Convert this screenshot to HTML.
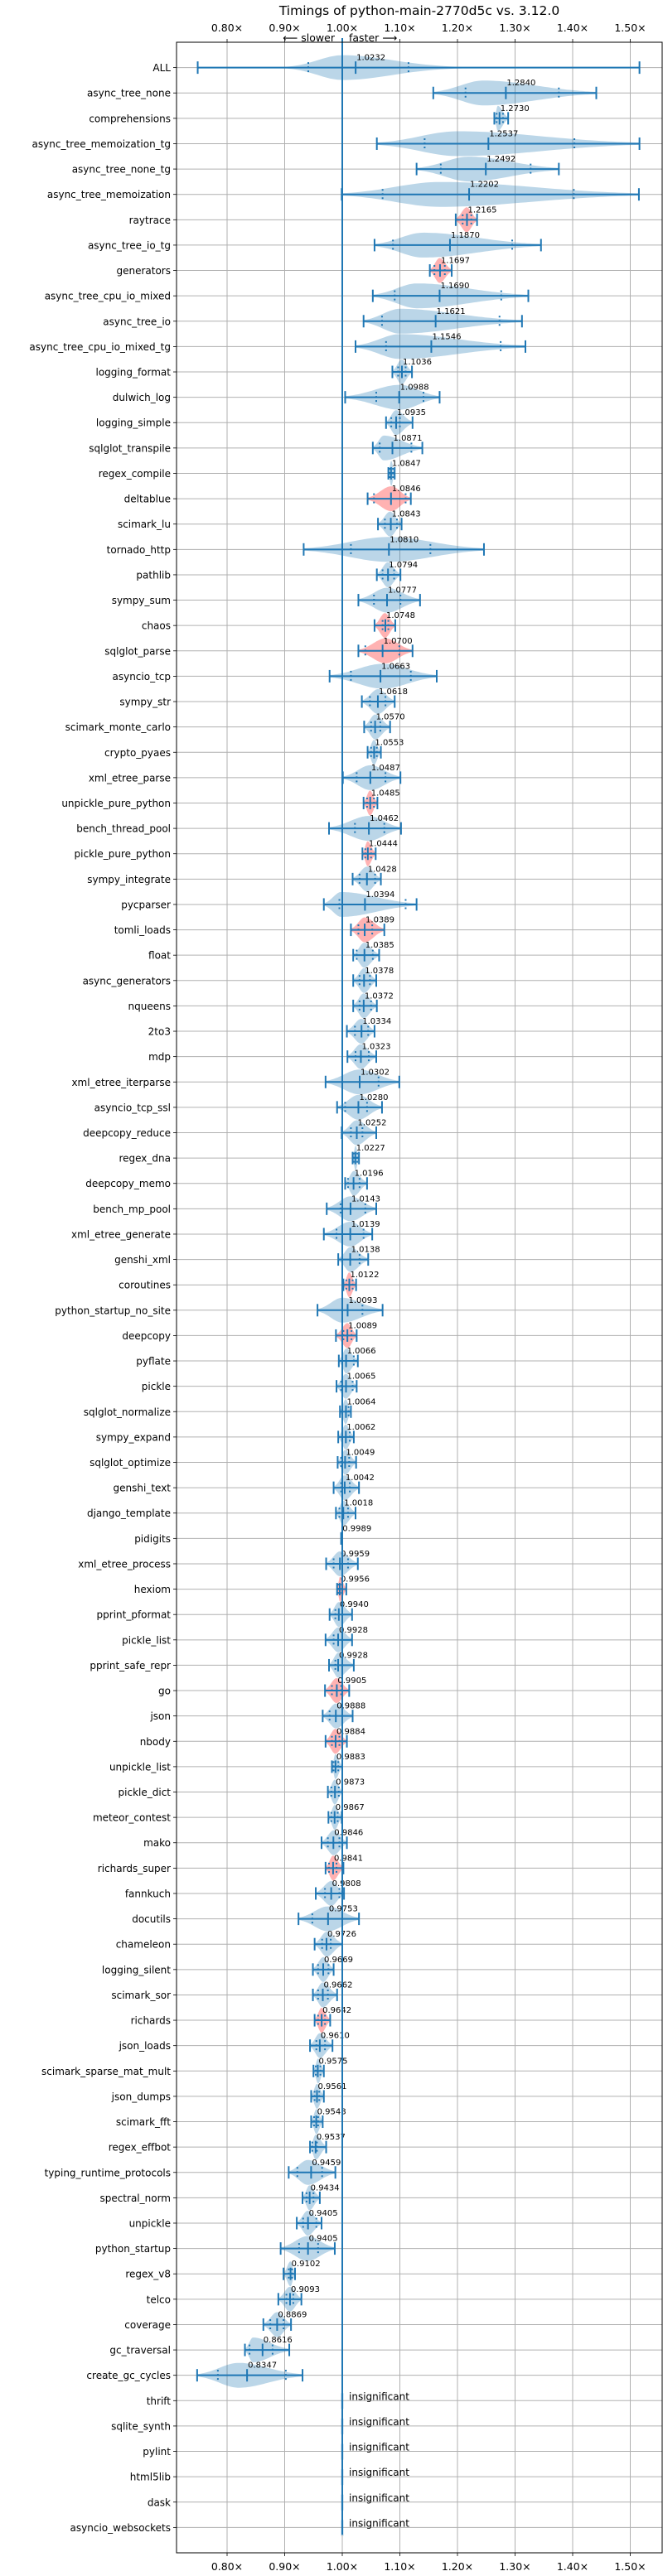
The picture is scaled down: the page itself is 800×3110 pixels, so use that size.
<!DOCTYPE html>
<html><head><meta charset="utf-8"><style>
html,body{margin:0;padding:0;background:#fff;}
svg{display:block;font-family:"DejaVu Sans","Liberation Sans",sans-serif;}
</style></head><body>
<svg id="chart" width="800" height="3110" viewBox="0 0 800 3110" xmlns="http://www.w3.org/2000/svg"></svg>
<script>
const names = ["ALL","async_tree_none","comprehensions","async_tree_memoization_tg","async_tree_none_tg","async_tree_memoization","raytrace","async_tree_io_tg","generators","async_tree_cpu_io_mixed","async_tree_io","async_tree_cpu_io_mixed_tg","logging_format","dulwich_log","logging_simple","sqlglot_transpile","regex_compile","deltablue","scimark_lu","tornado_http","pathlib","sympy_sum","chaos","sqlglot_parse","asyncio_tcp","sympy_str","scimark_monte_carlo","crypto_pyaes","xml_etree_parse","unpickle_pure_python","bench_thread_pool","pickle_pure_python","sympy_integrate","pycparser","tomli_loads","float","async_generators","nqueens","2to3","mdp","xml_etree_iterparse","asyncio_tcp_ssl","deepcopy_reduce","regex_dna","deepcopy_memo","bench_mp_pool","xml_etree_generate","genshi_xml","coroutines","python_startup_no_site","deepcopy","pyflate","pickle","sqlglot_normalize","sympy_expand","sqlglot_optimize","genshi_text","django_template","pidigits","xml_etree_process","hexiom","pprint_pformat","pickle_list","pprint_safe_repr","go","json","nbody","unpickle_list","pickle_dict","meteor_contest","mako","richards_super","fannkuch","docutils","chameleon","logging_silent","scimark_sor","richards","json_loads","scimark_sparse_mat_mult","json_dumps","scimark_fft","regex_effbot","typing_runtime_protocols","spectral_norm","unpickle","python_startup","regex_v8","telco","coverage","gc_traversal","create_gc_cycles","thrift","sqlite_synth","pylint","html5lib","dask","asyncio_websockets"];
const means = [1.0232,1.2840,1.2730,1.2537,1.2492,1.2202,1.2165,1.1870,1.1697,1.1690,1.1621,1.1546,1.1036,1.0988,1.0935,1.0871,1.0847,1.0846,1.0843,1.0810,1.0794,1.0777,1.0748,1.0700,1.0663,1.0618,1.0570,1.0553,1.0487,1.0485,1.0462,1.0444,1.0428,1.0394,1.0389,1.0385,1.0378,1.0372,1.0334,1.0323,1.0302,1.0280,1.0252,1.0227,1.0196,1.0143,1.0139,1.0138,1.0122,1.0093,1.0089,1.0066,1.0065,1.0064,1.0062,1.0049,1.0042,1.0018,0.9989,0.9959,0.9956,0.9940,0.9928,0.9928,0.9905,0.9888,0.9884,0.9883,0.9873,0.9867,0.9846,0.9841,0.9808,0.9753,0.9726,0.9669,0.9662,0.9642,0.9610,0.9575,0.9561,0.9548,0.9537,0.9459,0.9434,0.9405,0.9405,0.9102,0.9093,0.8869,0.8616,0.8347,null,null,null,null,null,null];
const mins = [0.749,1.158,1.264,1.060,1.129,0.999,1.197,1.056,1.152,1.053,1.037,1.023,1.087,1.005,1.076,1.053,1.080,1.044,1.062,0.933,1.060,1.028,1.056,1.028,0.978,1.034,1.038,1.044,1.001,1.037,0.977,1.035,1.018,0.968,1.015,1.019,1.019,1.019,1.008,1.009,0.971,0.991,0.999,1.018,1.005,0.973,0.968,0.993,1.002,0.957,0.989,0.994,0.990,0.996,0.993,0.992,0.985,0.989,0.998,0.972,0.991,0.978,0.971,0.977,0.970,0.966,0.971,0.982,0.975,0.976,0.964,0.971,0.954,0.924,0.952,0.949,0.949,0.952,0.944,0.950,0.946,0.946,0.944,0.907,0.931,0.921,0.893,0.898,0.889,0.863,0.831,0.748];
const maxs = [1.516,1.441,1.288,1.516,1.376,1.515,1.234,1.345,1.190,1.323,1.312,1.318,1.121,1.169,1.122,1.139,1.091,1.119,1.103,1.246,1.101,1.135,1.092,1.122,1.164,1.091,1.083,1.067,1.101,1.061,1.102,1.058,1.067,1.129,1.073,1.064,1.059,1.060,1.056,1.059,1.099,1.069,1.059,1.029,1.043,1.059,1.052,1.045,1.024,1.070,1.025,1.027,1.025,1.015,1.020,1.024,1.029,1.023,1.000,1.027,1.007,1.017,1.017,1.020,1.012,1.018,1.008,1.000,1.000,0.999,1.008,1.002,1.003,1.029,1.000,0.985,0.991,0.979,0.983,0.968,0.968,0.966,0.972,0.988,0.961,0.964,0.987,0.918,0.929,0.911,0.908,0.931];
const q1s = [0.941,1.214,1.268,1.143,1.171,1.070,1.209,1.088,1.160,1.091,1.069,1.076,1.097,1.059,1.085,1.065,1.082,1.055,1.074,1.015,1.070,1.055,1.070,1.040,1.015,1.048,1.050,1.050,1.025,1.043,1.022,1.040,1.030,0.995,1.028,1.025,1.030,1.030,1.022,1.023,1.000,1.005,1.015,1.020,1.010,0.997,0.990,1.000,1.007,1.000,1.002,1.000,0.998,1.000,1.000,0.998,0.998,0.995,0.9985,0.985,0.993,0.988,0.985,0.988,0.982,0.978,0.982,0.985,0.981,0.981,0.975,0.977,0.970,0.948,0.965,0.958,0.958,0.958,0.955,0.954,0.952,0.951,0.948,0.922,0.938,0.932,0.925,0.907,0.903,0.875,0.839,0.784];
const q3s = [1.115,1.376,1.279,1.403,1.327,1.402,1.224,1.295,1.178,1.276,1.273,1.275,1.110,1.141,1.100,1.120,1.088,1.110,1.095,1.153,1.090,1.101,1.080,1.099,1.119,1.075,1.066,1.060,1.075,1.055,1.073,1.050,1.057,1.110,1.052,1.053,1.048,1.050,1.045,1.046,1.063,1.043,1.035,1.026,1.030,1.040,1.037,1.030,1.018,1.035,1.016,1.020,1.018,1.011,1.013,1.012,1.013,1.010,0.9995,1.010,0.999,1.000,1.000,1.000,0.998,1.000,0.995,0.993,0.994,0.992,0.995,0.990,0.995,1.000,0.980,0.976,0.975,0.970,0.970,0.962,0.960,0.958,0.956,0.965,0.950,0.955,0.958,0.913,0.915,0.898,0.879,0.902];
const modes = [1.0,1.245,1.270,1.20,1.22,1.17,1.216,1.14,1.169,1.13,1.10,1.10,1.103,1.10,1.093,1.072,1.085,1.085,1.083,1.08,1.079,1.078,1.074,1.075,1.07,1.062,1.057,1.055,1.049,1.048,1.046,1.044,1.043,0.998,1.039,1.038,1.038,1.037,1.033,1.032,1.030,1.028,1.025,1.023,1.020,1.014,1.014,1.014,1.012,1.0,1.009,1.007,1.006,1.006,1.006,1.005,1.004,1.002,0.999,0.996,0.996,0.994,0.993,0.993,0.990,0.989,0.988,0.988,0.987,0.987,0.985,0.984,0.981,0.975,0.973,0.967,0.966,0.964,0.961,0.958,0.956,0.955,0.954,0.940,0.943,0.940,0.940,0.910,0.909,0.887,0.845,0.820];
const redRows = ["raytrace","generators","deltablue","chaos","sqlglot_parse","unpickle_pure_python","pickle_pure_python","tomli_loads","coroutines","deepcopy","hexiom","go","nbody","richards_super","richards"];
const xTicks = [0.8,0.9,1.0,1.1,1.2,1.3,1.4,1.5];
const xTickLabels = ["0.80×","0.90×","1.00×","1.10×","1.20×","1.30×","1.40×","1.50×"];

const NS="http://www.w3.org/2000/svg";
const svg=document.getElementById('chart');
const L=213, R=799, T=51, B=3082;
const X0=413, PX=695;
function xs(v){return X0+(v-1)*PX;}
const pitch=(B-T)/(names.length+1);
function ys(i){return T+(i+1)*pitch;}
function mk(tag,attrs,parent){const e=document.createElementNS(NS,tag);for(const k in attrs)e.setAttribute(k,attrs[k]);(parent||svg).appendChild(e);return e;}

// title
const title=mk('text',{x:(L+R)/2,y:18,'text-anchor':'middle','font-size':'15.5'});
title.textContent='Timings of python-main-2770d5c vs. 3.12.0';



// grid
const grid=mk('g',{});


xTicks.forEach(v=>{mk('line',{x1:xs(v),x2:xs(v),y1:T,y2:B,stroke:'#b0b0b0','stroke-width':1},grid);});
names.forEach((n,i)=>{mk('line',{x1:L,x2:R,y1:ys(i),y2:ys(i),stroke:'#b0b0b0','stroke-width':1},grid);});

// x tick labels top and bottom
xTicks.forEach((v,k)=>{
  const t1=mk('text',{x:xs(v),y:38,'text-anchor':'middle','font-size':'12.5'});
  t1.textContent=xTickLabels[k];
  
  
  mk('line',{x1:xs(v),x2:xs(v),y1:T-4,y2:T,stroke:'#000','stroke-width':0.8});
  const t2=mk('text',{x:xs(v),y:3103,'text-anchor':'middle','font-size':'12.5'});
  t2.textContent=xTickLabels[k];
  
  
  mk('line',{x1:xs(v),x2:xs(v),y1:B,y2:B+4,stroke:'#000','stroke-width':0.8});
});
const sl=mk('text',{x:404,y:50,'text-anchor':'end','font-size':'12.5'});
sl.textContent='⟵ slower';


const fa=mk('text',{x:421,y:50,'text-anchor':'start','font-size':'12.5'});
fa.textContent='faster ⟶';



// violins
function violinPath(i){
  const mn=mins[i],mx=maxs[i],md=modes[i],yc=ys(i);
  const sL=Math.max((md-mn)/(i===0?6:2.2),1e-4), sR=Math.max((mx-md)/(i===0?6:2.2),1e-4);
  const N=60,top=[],bot=[];
  for(let k=0;k<=N;k++){
    const v=mn+(mx-mn)*k/N;
    const s=v<md?sL:sR;
    let d=Math.exp(-0.5*Math.pow((v-md)/s,2));
    if(i===0) d=Math.max(d,0.06);
    const h=15*d;
    top.push([xs(v),yc-h]);bot.push([xs(v),yc+h]);
  }
  let p='M'+top.map(q=>q[0].toFixed(1)+','+q[1].toFixed(1)).join('L');
  p+='L'+bot.reverse().map(q=>q[0].toFixed(1)+','+q[1].toFixed(1)).join('L')+'Z';
  return p;
}
const C='#1f77b4';
names.forEach((n,i)=>{
  const yc=ys(i);
  const g=mk('g',{});
  
  
  if(means[i]===null){
    mk('rect',{x:xs(1)-1.5,y:yc-9,width:3,height:19,fill:'rgba(31,119,180,0.3)'},g);
    const t=mk('text',{x:xs(1)+8,y:yc-1,'font-size':'12'},g);
    t.textContent='insignificant';
    
    
  } else {
    const red=redRows.indexOf(n)>=0;
    const vp=mk('path',{d:violinPath(i),fill:red?'rgba(255,0,0,0.3)':'rgba(31,119,180,0.3)'},g);
    
    
    mk('line',{x1:xs(mins[i]),x2:xs(maxs[i]),y1:yc,y2:yc,stroke:C,'stroke-width':2},g);
    [mins[i],maxs[i],means[i]].forEach(v=>mk('line',{x1:xs(v),x2:xs(v),y1:yc-7.5,y2:yc+7.5,stroke:C,'stroke-width':2},g));
    [q1s[i],q3s[i]].forEach(v=>mk('line',{x1:xs(v),x2:xs(v),y1:yc-6.5,y2:yc+6.5,stroke:C,'stroke-width':2,'stroke-dasharray':'2,3'},g));
    const t=mk('text',{x:xs(means[i])+1,y:yc-9,'font-size':'10'},g);
    t.textContent=means[i].toFixed(4);
    
    
  }
  const lab=mk('text',{x:206,y:yc+4.5,'text-anchor':'end','font-size':'12'});
  lab.textContent=n;
  
  
  mk('line',{x1:L-4,x2:L,y1:yc,y2:yc,stroke:'#000','stroke-width':0.8});
});

// reference line at 1.0
const ref=mk('line',{x1:xs(1),x2:xs(1),y1:46,y2:3060,stroke:C,'stroke-width':2});



// frame
const fr=mk('rect',{x:L,y:T,width:R-L,height:B-T,fill:'none',stroke:'#000','stroke-width':1});


</script>
</body></html>
